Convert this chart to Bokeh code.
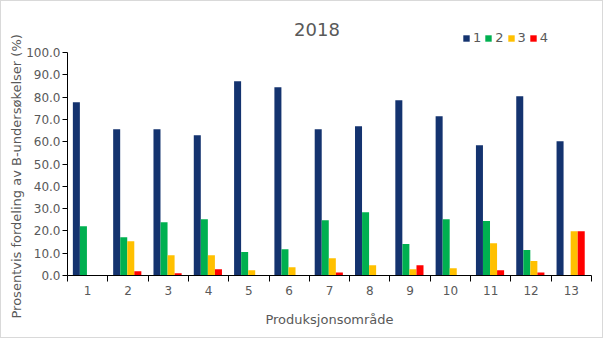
from bokeh.plotting import figure
from bokeh.models import (ColumnDataSource, FixedTicker, Label, Legend, LegendItem,
                          Range1d, NumeralTickFormatter, Title)
from bokeh.embed import file_html
from bokeh.resources import INLINE

categories = ["1", "2", "3", "4", "5", "6", "7", "8", "9", "10", "11", "12", "13"]
series_names = ["1", "2", "3", "4"]
s1 = [77.7, 65.6, 65.6, 62.9, 87.1, 84.4, 65.6, 67.0, 78.6, 71.4, 58.4, 80.4, 60.2]
s2 = [22.1, 17.2, 23.9, 25.2, 10.5, 11.8, 24.8, 28.4, 14.1, 25.2, 24.4, 11.4, 0.0]
s3 = [0.0, 15.4, 9.1, 9.1, 2.4, 3.7, 7.7, 4.6, 2.8, 3.2, 14.5, 6.5, 19.8]
s4 = [0.0, 1.9, 1.0, 2.8, 0.0, 0.0, 1.3, 0.0, 4.6, 0.0, 2.4, 1.3, 19.8]
colors = ["#14336F", "#00B050", "#FFC000", "#FF0000"]
y_ticks = [0, 10, 20, 30, 40, 50, 60, 70, 80, 90, 100]

font = "DejaVu Sans"
grey = "#595959"

p = figure(width=603, height=338, output_backend="svg", toolbar_location=None,
           x_range=Range1d(0.5, 13.5), y_range=Range1d(0, 122.9),
           min_border_left=66, min_border_right=13, min_border_top=0, min_border_bottom=64)
p.styles = {"border": "1px solid #d9d9d9"}
p.outline_line_color = None
p.xgrid.visible = False
p.ygrid.visible = False

xs = list(range(1, len(categories) + 1))
offsets = [-0.28, -0.105, 0.07, 0.245]
bw = 0.174
renderers = []
for vals, off, col in zip([s1, s2, s3, s4], offsets, colors):
    src = ColumnDataSource(dict(x=[x + off for x in xs], top=vals))
    r = p.vbar(x="x", top="top", width=bw, bottom=0, source=src, fill_color=col, line_color=None)
    renderers.append(r)

# x axis
p.xaxis.ticker = FixedTicker(ticks=xs, minor_ticks=[x + 0.5 for x in range(0, 14)])
p.xaxis.major_label_overrides = {x: c for x, c in zip(xs, categories)}
p.xaxis.major_tick_out = 0
p.xaxis.major_tick_in = 0
p.xaxis.minor_tick_out = 6
p.xaxis.minor_tick_in = 0
p.xaxis.minor_tick_line_color = "black"
p.xaxis.axis_line_color = "black"
p.xaxis.axis_label = "Produksjonsområde"
p.xaxis.major_label_standoff = 4
p.xaxis.axis_label_standoff = 14

# y axis
p.yaxis.ticker = FixedTicker(ticks=y_ticks)
p.yaxis.bounds = (0, 100)
p.yaxis.formatter = NumeralTickFormatter(format="0.0")
p.yaxis.major_tick_out = 5
p.yaxis.major_tick_in = 0
p.yaxis.minor_tick_out = 0
p.yaxis.minor_tick_in = 0
p.yaxis.axis_line_color = "black"
p.yaxis.major_tick_line_color = "black"
p.yaxis.major_label_standoff = 2

for ax in [p.xaxis[0], p.yaxis[0]]:
    ax.major_label_text_font = font
    ax.major_label_text_font_size = "12px"
    ax.major_label_text_color = grey
    ax.axis_label_text_font = font
    ax.axis_label_text_font_size = "13px"
    ax.axis_label_text_color = grey
    ax.axis_label_text_font_style = "normal"

ylab = Title(text="Prosentvis fordeling av B-undersøkelser (%)", align="left", offset=-43,
             text_font=font, text_font_size="13px", text_color=grey,
             text_font_style="normal", standoff=0)
p.add_layout(ylab, "left")

title = Label(x=6.69, y=110.4, text="2018", text_font=font, text_font_size="18px",
              text_color=grey, text_align="center", text_baseline="middle")
p.add_layout(title)

legend = Legend(items=[LegendItem(label=n, renderers=[r]) for n, r in zip(series_names, renderers)],
                orientation="horizontal", location=(395, 230),
                glyph_width=8, glyph_height=8, label_standoff=3, spacing=3, label_width=8,
                label_height=10,
                label_text_font=font, label_text_font_size="13px", label_text_color=grey,
                background_fill_alpha=0, border_line_color=None, padding=0, margin=0)
p.add_layout(legend)

open("out.html", "w").write(file_html(p, INLINE))
